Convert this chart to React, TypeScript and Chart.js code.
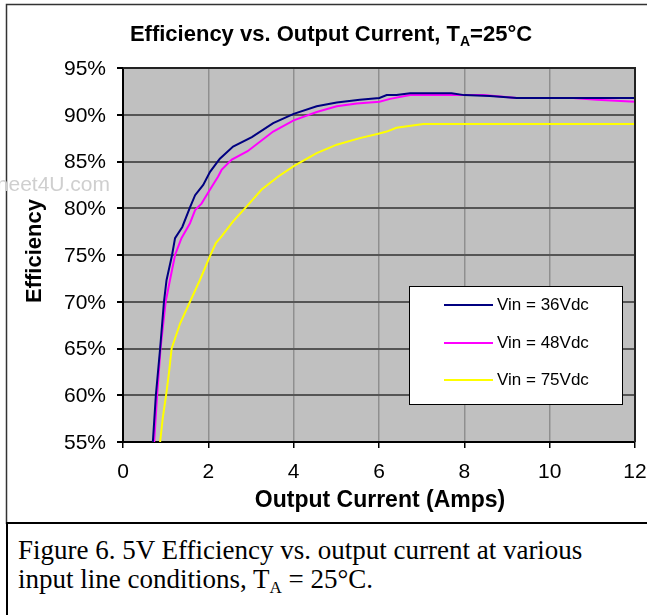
import React, { useEffect, useRef } from "react";
import { Chart, registerables } from "chart.js";

Chart.register(...registerables);

// ---- data ----
const seriesLabels = ["Vin = 36Vdc", "Vin = 48Vdc", "Vin = 75Vdc"];
const seriesColors = ["#000080", "#FF00FF", "#FFFF00"];

const current36 = [0.70, 0.77, 0.87, 0.96, 1.02, 1.15, 1.22, 1.39, 1.57, 1.69, 1.88, 2.04, 2.27, 2.58, 3.02, 3.52, 4.0, 4.54, 5.01, 5.55, 6.01, 6.18, 6.41, 6.73, 7.7, 8.0, 8.6, 9.23, 10.0, 11.0, 12.0];
const eff36 = [55.0, 60.0, 65.0, 70.0, 72.3, 75.0, 76.8, 78.0, 80.1, 81.4, 82.5, 83.9, 85.3, 86.6, 87.6, 89.1, 90.1, 90.9, 91.3, 91.6, 91.8, 92.1, 92.1, 92.3, 92.3, 92.1, 92.0, 91.8, 91.8, 91.8, 91.8];

const current48 = [0.73, 0.80, 0.88, 1.0, 1.10, 1.22, 1.37, 1.57, 1.69, 1.84, 2.04, 2.23, 2.31, 2.55, 2.92, 3.52, 4.0, 4.54, 5.01, 5.48, 6.01, 6.26, 6.73, 8.45, 9.23, 10.55, 11.1, 12.0];
const eff48 = [55.0, 60.0, 65.0, 70.0, 72.3, 75.0, 76.8, 78.4, 79.8, 80.5, 82.0, 83.4, 84.1, 85.2, 86.1, 88.2, 89.4, 90.3, 90.9, 91.2, 91.4, 91.7, 92.1, 92.1, 91.8, 91.8, 91.6, 91.4];

const current75 = [0.87, 0.93, 1.01, 1.08, 1.14, 1.34, 1.57, 1.80, 2.04, 2.18, 2.31, 2.58, 2.90, 3.25, 3.64, 4.0, 4.54, 5.01, 5.55, 6.01, 6.18, 6.41, 7.04, 12.0];
const eff75 = [55.0, 57.5, 60.0, 62.5, 65.0, 67.7, 70.0, 72.3, 74.9, 76.3, 77.0, 78.6, 80.2, 82.0, 83.4, 84.5, 85.9, 86.8, 87.5, 88.0, 88.2, 88.6, 89.0, 89.0];

const xTickValues = [0, 2, 4, 6, 8, 10, 12];
const yTickValues = [55, 60, 65, 70, 75, 80, 85, 90, 95];

const titleMain = "Efficiency vs. Output Current, T";
const titleSub = "A";
const titleTail = "=25°C";
const xAxisTitle = "Output Current (Amps)";
const yAxisTitle = "Efficiency";
const watermark = "DataSheet4U.com";

const SANS = "'Liberation Sans', Arial, sans-serif";

const toPoints = (xs: number[], ys: number[]) => xs.map((x, i) => ({ x, y: ys[i] }));

const decorPlugin = {
  id: "decor",
  beforeDraw(chart: any) {
    const { ctx, chartArea } = chart;
    ctx.save();
    ctx.fillStyle = "#C0C0C0";
    ctx.fillRect(chartArea.left, chartArea.top, chartArea.right - chartArea.left, chartArea.bottom - chartArea.top);
    ctx.restore();
  },
  afterDraw(chart: any) {
    const { ctx, chartArea } = chart;
    const xs = chart.scales.x;
    const ys = chart.scales.y;
    ctx.save();

    // plot top/right border
    ctx.strokeStyle = "#222";
    ctx.lineWidth = 2;
    ctx.beginPath();
    ctx.moveTo(chartArea.left, chartArea.top);
    ctx.lineTo(chartArea.right, chartArea.top);
    ctx.lineTo(chartArea.right, chartArea.bottom);
    ctx.stroke();

    // outer frame
    ctx.strokeStyle = "#333";
    ctx.lineWidth = 1.5;
    ctx.beginPath();
    ctx.moveTo(650, 4.5);
    ctx.lineTo(6.5, 4.5);
    ctx.lineTo(6.5, 524);
    ctx.stroke();
    ctx.strokeStyle = "#000";
    ctx.lineWidth = 2;
    ctx.beginPath();
    ctx.moveTo(6, 523);
    ctx.lineTo(650, 523);
    ctx.stroke();

    // watermark
    ctx.fillStyle = "#cfcfcf";
    ctx.font = `21px ${SANS}`;
    ctx.textAlign = "right";
    ctx.textBaseline = "middle";
    ctx.fillText(watermark, 110, 185);

    // tick labels
    ctx.fillStyle = "#000";
    ctx.font = `21px ${SANS}`;
    ctx.textAlign = "right";
    ctx.textBaseline = "middle";
    yTickValues.forEach((v) => {
      ctx.fillText(`${v}%`, 106, ys.getPixelForValue(v) + 1);
    });
    ctx.textAlign = "center";
    xTickValues.forEach((v) => {
      ctx.fillText(String(v), xs.getPixelForValue(v), 472);
    });

    // title with subscript
    const mainFont = `bold 22px ${SANS}`;
    const subFont = `bold 14px ${SANS}`;
    ctx.textBaseline = "alphabetic";
    ctx.textAlign = "left";
    ctx.font = mainFont;
    const w1 = ctx.measureText(titleMain).width;
    ctx.font = subFont;
    const w2 = ctx.measureText(titleSub).width;
    ctx.font = mainFont;
    const w3 = ctx.measureText(titleTail).width;
    const total = w1 + w2 + w3;
    let tx = 331 - total / 2;
    const base = 41;
    ctx.fillText(titleMain, tx, base);
    tx += w1;
    ctx.font = subFont;
    ctx.fillText(titleSub, tx, base + 5);
    tx += w2;
    ctx.font = mainFont;
    ctx.fillText(titleTail, tx, base);

    // axis titles
    ctx.font = `bold 23px ${SANS}`;
    ctx.textAlign = "center";
    ctx.textBaseline = "middle";
    ctx.fillText(xAxisTitle, (chartArea.left + chartArea.right) / 2 + 1, 501);
    ctx.font = `bold 22px ${SANS}`;
    ctx.save();
    ctx.translate(35, 251);
    ctx.rotate(-Math.PI / 2);
    ctx.fillText(yAxisTitle, 0, 0);
    ctx.restore();

    // legend box
    const lx = 409, ly = 286, lw = 213, lh = 118;
    ctx.fillStyle = "#fff";
    ctx.fillRect(lx, ly, lw, lh);
    ctx.strokeStyle = "#000";
    ctx.lineWidth = 1;
    ctx.strokeRect(lx + 0.5, ly + 0.5, lw, lh);
    const rows = [305, 343, 380];
    chart.data.datasets.forEach((ds: any, i: number) => {
      ctx.strokeStyle = ds.borderColor;
      ctx.lineWidth = 2;
      ctx.beginPath();
      ctx.moveTo(444, rows[i]);
      ctx.lineTo(493, rows[i]);
      ctx.stroke();
      ctx.fillStyle = "#000";
      ctx.font = `17px ${SANS}`;
      ctx.textAlign = "left";
      ctx.textBaseline = "middle";
      ctx.fillText(ds.label, 497, rows[i]);
    });

    ctx.restore();
  },
};

export default function App() {
  const canvasRef = useRef<HTMLCanvasElement | null>(null);

  useEffect(() => {
    document.body.style.margin = "0";
    const canvas = canvasRef.current;
    if (!canvas) return;
    const series = [
      toPoints(current36, eff36),
      toPoints(current48, eff48),
      toPoints(current75, eff75),
    ];
    const chart = new Chart(canvas, {
      type: "scatter",
      data: {
        datasets: series.map((pts, i) => ({
          label: seriesLabels[i],
          data: pts,
          showLine: true,
          borderColor: seriesColors[i],
          backgroundColor: seriesColors[i],
          borderWidth: 2,
          pointRadius: 0,
          tension: 0,
        })),
      },
      options: {
        responsive: false,
        animation: false,
        layout: { padding: { top: 68, right: 12, bottom: 0, left: 0 } },
        plugins: {
          legend: { display: false },
          title: { display: false },
          tooltip: { enabled: false },
        },
        scales: {
          x: {
            type: "linear",
            min: 0,
            max: 12,
            afterFit: (s: any) => { s.height = 82; },
            afterBuildTicks: (s: any) => { s.ticks = xTickValues.map((v) => ({ value: v })); },
            ticks: { display: false },
            grid: { color: "#8f8f8f", lineWidth: 1.5, tickColor: "#000", tickLength: 6, drawTicks: true },
            border: { color: "#000", width: 2 },
          },
          y: {
            type: "linear",
            min: 55,
            max: 95,
            afterFit: (s: any) => { s.width = 123; },
            afterBuildTicks: (s: any) => { s.ticks = yTickValues.map((v) => ({ value: v })); },
            ticks: { display: false },
            grid: { color: "#555555", lineWidth: 2, tickColor: "#000", tickLength: 6, drawTicks: true },
            border: { color: "#000", width: 2 },
          },
        },
      },
      plugins: [decorPlugin],
    });
    return () => chart.destroy();
  }, []);

  return (
    <div style={{ position: "relative", width: 647, height: 615, background: "#fff", overflow: "hidden" }}>
      <canvas ref={canvasRef} width={647} height={524} style={{ position: "absolute", left: 0, top: 0, width: 647, height: 524 }} />
      <div
        style={{
          position: "absolute",
          left: 6,
          top: 524,
          width: 660,
          height: 100,
          borderLeft: "2px solid #000",
          boxSizing: "border-box",
          padding: "12px 0 0 10px",
          fontFamily: "'Liberation Serif', 'Times New Roman', serif",
          fontSize: 27,
          lineHeight: "29px",
          color: "#000",
          whiteSpace: "nowrap",
        }}
      >
        Figure 6. 5V Efficiency vs. output current at various
        <br />
        input line conditions, T
        <span style={{ fontSize: 17, position: "relative", top: 5, lineHeight: 0 }}>A</span> = 25°C.
      </div>
    </div>
  );
}
